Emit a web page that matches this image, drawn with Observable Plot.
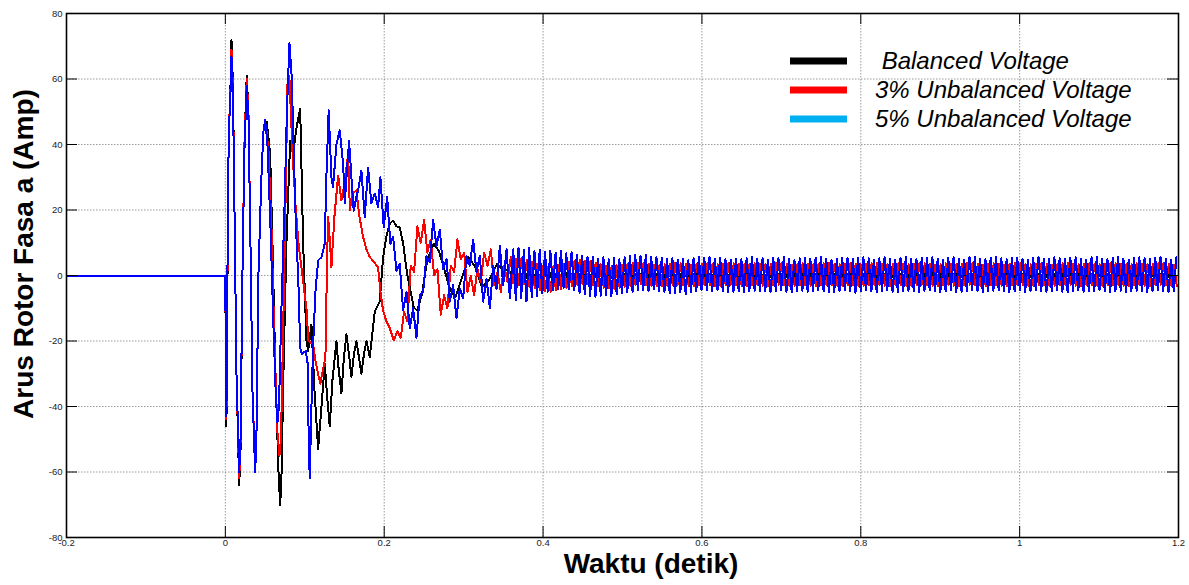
<!DOCTYPE html>
<html><head><meta charset="utf-8">
<script src="https://cdn.jsdelivr.net/npm/d3@7"></script>
<script src="https://cdn.jsdelivr.net/npm/@observablehq/plot@0.6"></script>
<style>
body{margin:0;background:#fff;}
#wrap{position:relative;width:1189px;height:585px;font-family:"Liberation Sans",Arial,sans-serif;}
#overlay{position:absolute;left:0;top:0;pointer-events:none;}
#wrap g[aria-label="line"] path{shape-rendering:crispEdges;}
</style>
</head><body><div id="wrap"></div>
<script>
// ---------- axis ticks ----------
const xTicks = [-0.2, 0, 0.2, 0.4, 0.6, 0.8, 1, 1.2];
const xTickLabels = ["-0.2", "0", "0.2", "0.4", "0.6", "0.8", "1", "1.2"];
const yTicks = [-80, -60, -40, -20, 0, 20, 40, 60, 80];

const seriesNames = ["Balanced Voltage", "3% Unbalanced Voltage", "5% Unbalanced Voltage"];
const lineColors = ["#000000", "#ff0000", "#0000ff"];
const legendColors = ["#000000", "#ff0000", "#00b0f0"];
const xTitle = "Waktu (detik)";
const yTitle = "Arus Rotor Fasa a (Amp)";

// ---------- transient points [time s, current A] ----------
const balancedPts = [[-0.2,0],[0,0],[0.0008,-46],[0.0014,-44],[0.0033,20],[0.0045,48],[0.0058,50],[0.0077,72],[0.0096,58],[0.0115,20],[0.0140,-30],[0.0174,-64],[0.0190,-55],[0.0215,0],[0.0240,40],[0.0269,61],[0.0291,50],[0.0316,10],[0.0341,-35],[0.0375,-60],[0.0391,-50],[0.0416,0],[0.0454,30],[0.0479,44],[0.0521,47],[0.0543,42],[0.0564,37],[0.0593,10],[0.0631,-30],[0.0669,-60],[0.0690,-70],[0.0706,-62],[0.0731,-30],[0.0769,10],[0.0816,41],[0.0857,38],[0.0895,45],[0.0942,51],[0.0979,10],[0.1021,-20],[0.1042,-23],[0.1084,-15],[0.1122,-35],[0.1168,-53],[0.1210,-40],[0.1251,-27],[0.1285,-38],[0.1314,-46],[0.1348,-32],[0.1398,-20],[0.1424,-28],[0.1461,-36],[0.1493,-25],[0.1524,-18],[0.1556,-24],[0.1587,-31],[0.1619,-24],[0.1650,-20],[0.1682,-25],[0.1713,-30],[0.1745,-24],[0.1776,-20],[0.1818,-25],[0.1881,-11],[0.1943,-8],[0.1986,5.6],[0.2028,12],[0.2069,15.8],[0.2112,16.8],[0.2154,15],[0.2195,14.7],[0.2238,9.8],[0.2288,0.5],[0.2371,-9.7],[0.2414,-10.7],[0.2477,-5.6],[0.2540,4.6],[0.2623,9.7],[0.2686,7.6],[0.2749,2.5],[0.2833,-4.6],[0.2896,-6.6],[0.2981,-0.5],[0.3064,5.6],[0.3148,2.5],[0.3232,-3.6],[0.3315,-1.5],[0.3421,3.5],[0.3504,1.5]];

const unbal3Pts = [[-0.2,0],[0,0],[0.0008,-44],[0.0014,-42],[0.0033,20],[0.0045,48],[0.0058,50],[0.0077,69],[0.0096,57],[0.0115,20],[0.0140,-30],[0.0174,-62],[0.0190,-53],[0.0215,0],[0.0240,40],[0.0269,60],[0.0291,50],[0.0316,10],[0.0341,-35],[0.0375,-59],[0.0391,-50],[0.0416,0],[0.0454,30],[0.0479,44],[0.0511,46],[0.0543,38],[0.0580,15],[0.0618,-20],[0.0656,-48],[0.0681,-55],[0.0700,-50],[0.0725,-20],[0.0756,20],[0.0785,62],[0.0807,60],[0.0845,38],[0.0882,22],[0.0920,10],[0.0970,0],[0.1021,-10],[0.1046,-20],[0.1105,-21],[0.1134,-26],[0.1176,-31],[0.1197,-33],[0.1218,-30],[0.1260,-25],[0.1281,5],[0.1294,18],[0.1317,10],[0.1335,2.5],[0.1373,18],[0.1420,30.5],[0.1461,23],[0.1499,28],[0.1546,37],[0.1568,20],[0.1600,25],[0.1650,26],[0.1688,18],[0.1735,11.7],[0.1776,8],[0.1818,5.6],[0.1877,4],[0.1923,2.5],[0.1952,-5],[0.1986,-10.7],[0.2028,-14],[0.2066,-15.8],[0.2120,-19.8],[0.2166,-17]];

const unbal5Pts = [[-0.2,0],[0,0],[0.0008,-43],[0.0014,-40],[0.0033,22],[0.0045,47],[0.0058,50],[0.0077,67],[0.0096,55],[0.0115,20],[0.0140,-30],[0.0174,-60],[0.0190,-52],[0.0215,0],[0.0240,38],[0.0269,58],[0.0291,48],[0.0316,10],[0.0341,-35],[0.0375,-60],[0.0391,-50],[0.0416,0],[0.0454,30],[0.0479,44],[0.0501,47.6],[0.0530,40],[0.0568,15],[0.0605,-15],[0.0637,-38],[0.0656,-45],[0.0675,-40],[0.0706,-10],[0.0744,20],[0.0775,50],[0.0807,71],[0.0836,60.5],[0.0857,41],[0.0886,17],[0.0920,-2.5],[0.0942,-22],[0.0962,-24],[0.1012,-23],[0.1037,-27],[0.1046,-45],[0.1062,-62],[0.1084,-40],[0.1105,-21],[0.1134,-5],[0.1168,4.6],[0.1210,5.6],[0.1251,9.7],[0.1272,30],[0.1301,50.4],[0.1335,30],[0.1356,27],[0.1398,40],[0.1440,44.3],[0.1483,34],[0.1503,22],[0.1533,33],[0.1558,41],[0.1587,30],[0.1616,19.8],[0.1650,24],[0.1671,26],[0.1713,32],[0.1755,17.8],[0.1797,33],[0.1839,22],[0.1881,25],[0.1923,21],[0.1952,30],[0.1994,14.7],[0.2037,24],[0.2078,9.7],[0.2112,11.7],[0.2154,1.5],[0.2195,3.5]];

// ---------- ripple extrema (evenly spaced sample times) ----------
const balancedRipple = {start: 0.3575, step: 0.00334, values: [
1.6,-0.8,1.4,-1.0,1.2,-1.1,1.0,-1.2,0.9,-1.3,0.8,-1.2,
1.0,-1.0,1.1,-0.9,1.2,-0.8,1.1,-1.0,0.9,-1.1,1.0,-1.2,
1.1,-0.9,1.0,-1.0,1.2,-0.8,0.9,-1.1,1.0,-1.0,1.1,-0.9,
1.2,-1.0,0.9,-1.1,1.0,-0.9,1.1,-1.0,1.2,-0.8,1.0,-1.1,
0.9,-1.0,1.1,-0.9,1.0,-1.2,1.2,-0.9,1.0,-1.0,0.9,-1.1,
1.1,-0.8,1.0,-1.0,1.2,-1.1,0.9,-0.9,1.0,-1.0,1.1,-1.2,
1.0,-0.9,1.2,-1.0,0.9,-1.1,1.0,-0.8,1.1,-1.0,1.0,-0.9,
1.2,-1.1,0.9,-1.0,1.0,-0.9,1.1,-1.0,1.2,-0.8,1.0,-1.1,
0.9,-1.0,1.1,-0.9,1.0,-1.2,1.2,-0.9,1.0,-1.0,0.9,-1.1,
1.1,-0.8,1.0,-1.0,1.2,-1.1,0.9,-0.9,1.0,-1.0,1.1,-1.2,
1.0,-0.9,1.2,-1.0,0.9,-1.1,1.0,-0.8,1.1,-1.0,1.0,-0.9,
1.2,-1.1,0.9,-1.0,1.0,-0.9,1.1,-1.0,1.2,-0.8,1.0,-1.1,
0.9,-1.0,1.1,-0.9,1.0,-1.2,1.2,-0.9,1.0,-1.0,0.9,-1.1,
1.1,-0.8,1.0,-1.0,1.2,-1.1,0.9,-0.9,1.0,-1.0,1.1,-1.2,
1.0,-0.9,1.2,-1.0,0.9,-1.1,1.0,-0.8,1.1,-1.0,1.0,-0.9,
1.2,-1.1,0.9,-1.0,1.0,-0.9,1.1,-1.0,1.2,-0.8,1.0,-1.1,
0.9,-1.0,1.1,-0.9,1.0,-1.2,1.2,-0.9,1.0,-1.0,0.9,-1.1,
1.1,-0.8,1.0,-1.0,1.2,-1.1,0.9,-0.9,1.0,-1.0,1.1,-1.2,
1.0,-0.9,1.2,-1.0,0.9,-1.1,1.0,-0.8,1.1,-1.0,1.0,-0.9,
1.2,-1.1,0.9,-1.0,1.0,-0.9,1.1,-1.0,1.2,-0.8,1.0,-1.1,
0.9,-1.0,1.1,-0.9,1.0,-1.2,1.2,-0.9,1.0,-1.0,0.9,-1.1]};

const unbal3RippleA = {start: 0.2208, step: 0.0042, values: [
-19,-11,-14,3,1,15,10,17,7,11,0,2,-12,-6,-10,3,1,11,5,7,-5,0,-6,2,-2,7,3,8,-3,1,-5,3,-2]};
const unbal3RippleB = {start: 0.3594, step: 0.00334, values: [
5.6,-2.4,5.2,-3.0,5.4,-2.6,4.8,-3.4,4.2,-3.9,3.6,-4.4,
3.0,-4.8,2.6,-4.9,2.8,-4.6,3.1,-4.2,3.6,-3.8,4.1,-3.2,
4.5,-2.8,4.8,-2.5,4.6,-2.7,4.3,-3.0,3.9,-3.3,3.4,-3.7,
3.0,-3.9,2.9,-4.0,3.1,-3.7,3.3,-3.4,3.6,-3.1,3.8,-2.8,
3.9,-2.7,3.7,-2.9,3.5,-3.1,3.3,-3.3,3.2,-3.4,3.4,-3.2,
3.6,-3.0,3.8,-2.8,3.7,-2.9,3.5,-3.1,3.3,-3.2,3.4,-3.0,
3.6,-2.9,3.7,-3.0,3.5,-3.2,3.4,-3.1,3.6,-2.9,3.8,-2.8,
3.7,-3.0,3.5,-3.1,3.4,-3.2,3.6,-3.0,3.7,-2.9,3.5,-3.1,
3.4,-3.2,3.6,-3.0,3.8,-2.8,3.7,-2.9,3.5,-3.1,3.3,-3.2,
3.5,-3.0,3.7,-2.9,3.6,-3.1,3.4,-3.2,3.5,-3.0,3.7,-2.8,
3.8,-2.9,3.6,-3.1,3.4,-3.2,3.5,-3.0,3.7,-2.9,3.6,-3.1,
3.4,-3.2,3.5,-3.0,3.7,-2.8,3.8,-2.9,3.6,-3.1,3.4,-3.2,
3.5,-3.0,3.7,-2.9,3.6,-3.1,3.4,-3.2,3.5,-3.0,3.8,-2.8,
3.7,-2.9,3.5,-3.1,3.3,-3.2,3.5,-3.0,3.7,-2.9,3.6,-3.1,
3.4,-3.2,3.6,-3.0,3.8,-2.8,3.7,-3.0,3.5,-3.1,3.4,-3.2,
3.6,-3.0,3.7,-2.9,3.5,-3.1,3.3,-3.2,3.6,-3.0,3.8,-2.8,
3.7,-2.9,3.5,-3.1,3.4,-3.2,3.6,-3.0,3.7,-2.9,3.5,-3.1,
3.3,-3.2,3.5,-3.0,3.7,-2.8,3.8,-2.9,3.6,-3.1,3.4,-3.2,
3.5,-3.0,3.7,-2.9,3.6,-3.1,3.4,-3.2,3.5,-3.0,3.7,-2.8,
3.8,-2.9,3.6,-3.1,3.4,-3.2,3.5,-3.0,3.7,-2.9,3.6,-3.1,
3.4,-3.2,3.5,-3.0,3.7,-2.8,3.8,-2.9,3.6,-3.1,3.4,-3.2]};

const unbal5RippleA = {start: 0.2238, step: 0.0042, values: [
-10.7,-5,-16,-10,-19,-6,-5,6,4,17,9,14,2,5,-8,-3,-13,-4,-7,6,3,11,1,6,-8,-1,-10,3,-4,9,-3,8,-7]};
const unbal5RippleB = {start: 0.3624, step: 0.00334, values: [
8.0,-7.6,8.3,-7.0,7.8,-7.9,8.4,-6.6,7.5,-6.2,7.9,-5.5,
7.2,-5.0,7.6,-4.4,7.0,-4.1,7.4,-3.8,6.8,-4.3,7.1,-4.6,
6.4,-5.2,6.0,-5.8,5.6,-6.3,5.8,-6.6,5.2,-6.2,5.5,-6.0,
5.0,-6.4,5.3,-5.8,4.9,-5.5,5.6,-5.1,5.9,-4.9,6.2,-4.6,
6.0,-4.4,6.3,-4.8,5.8,-4.3,5.6,-4.7,5.4,-5.0,5.0,-5.4,
5.2,-5.5,4.8,-5.2,5.0,-5.7,4.6,-5.1,5.3,-4.8,5.6,-4.5,
5.4,-4.6,5.7,-4.9,5.2,-4.4,5.5,-4.7,5.0,-5.1,4.8,-5.0,
5.2,-4.8,4.9,-5.2,5.3,-4.9,5.6,-4.6,5.1,-4.9,5.4,-4.7,
4.9,-5.1,5.5,-4.8,5.2,-4.5,5.6,-4.9,5.0,-5.2,4.7,-4.9,
5.3,-4.6,5.5,-5.0,5.1,-4.7,5.4,-4.4,5.7,-4.8,5.2,-5.1,
4.8,-5.0,5.1,-4.7,5.5,-4.5,5.3,-4.9,5.0,-5.2,5.4,-4.8,
5.6,-4.6,5.2,-4.9,4.9,-5.1,5.3,-4.7,5.6,-4.5,5.1,-5.0,
4.9,-5.2,5.4,-4.8,5.7,-4.6,5.2,-4.9,5.0,-5.1,5.5,-4.7,
5.3,-4.5,5.6,-4.9,5.1,-5.2,4.8,-4.8,5.4,-4.6,5.6,-5.0,
5.2,-4.9,4.9,-4.7,5.5,-4.4,5.7,-4.8,5.1,-5.1,5.0,-4.9,
5.4,-4.7,5.6,-4.5,5.2,-4.9,4.9,-5.2,5.3,-4.8,5.5,-4.6,
5.1,-5.0,4.8,-4.8,5.4,-4.6,5.7,-4.9,5.2,-5.1,5.0,-4.7,
5.5,-4.5,5.3,-4.9,5.0,-5.2,5.4,-4.8,5.6,-4.6,5.1,-5.0,
4.9,-4.9,5.5,-4.7,5.7,-4.5,5.2,-4.9,5.0,-5.1,5.4,-4.8,
5.6,-4.6,5.1,-5.0,4.8,-4.8,5.3,-4.6,5.6,-4.9,5.2,-5.1,
5.0,-4.7,5.4,-4.5,5.7,-4.9,5.1,-5.1,4.9,-4.8,5.5]};

// ---------- build table ----------
function seriesRows(name, pts, segments) {
  const rows = pts.map(([t, v]) => ({series: name, t, v}));
  for (const seg of segments) seg.values.forEach((v, i) => rows.push({series: name, t: seg.start + i * seg.step, v}));
  return rows;
}
const rows = [
  ...seriesRows(seriesNames[0], balancedPts, [balancedRipple]),
  ...seriesRows(seriesNames[1], unbal3Pts, [unbal3RippleA, unbal3RippleB]),
  ...seriesRows(seriesNames[2], unbal5Pts, [unbal5RippleA, unbal5RippleB])
];

const W = 1189, H = 585, mL = 66, mR = 11, mT = 13, mB = 48;
const plotW = W - mL - mR, plotH = H - mT - mB;
const tickLen = 11;

const chart = Plot.plot({
  width: W, height: H,
  marginLeft: mL, marginRight: mR, marginTop: mT, marginBottom: mB,
  style: {fontFamily: "'Liberation Sans', Arial, sans-serif", fontSize: "9.5px", color: "#222", background: "#fff"},
  x: {domain: [-0.2, 1.2], ticks: xTicks, tickFormat: d => xTickLabels[xTicks.indexOf(d)], tickSize: 0, tickPadding: 2, label: null},
  y: {domain: [-80, 80], ticks: yTicks, tickFormat: d => String(d), tickSize: 0, tickPadding: 4, label: null},
  color: {domain: seriesNames, range: lineColors},
  marks: [
    Plot.ruleX(xTicks, {x: d => d, stroke: "#808080", strokeWidth: 0.8, strokeDasharray: "1.5,1.5"}),
    Plot.ruleY(yTicks, {y: d => d, stroke: "#808080", strokeWidth: 0.8, strokeDasharray: "1.5,1.5"}),
    Plot.line(rows, {x: "t", y: "v", z: "series", stroke: "series", strokeWidth: 2, strokeLinejoin: "round"}),
    Plot.tickX(xTicks, {x: d => d, stroke: "#000", insetTop: plotH - tickLen}),
    Plot.tickX(xTicks, {x: d => d, stroke: "#000", insetBottom: plotH - tickLen}),
    Plot.tickY(yTicks, {y: d => d, stroke: "#000", insetRight: plotW - tickLen}),
    Plot.tickY(yTicks, {y: d => d, stroke: "#000", insetLeft: plotW - tickLen}),
    Plot.frame({stroke: "#000", strokeWidth: 1.6})
  ]
});
const wrap = document.getElementById("wrap");
wrap.appendChild(chart);

// ---------- overlay: titles and legend ----------
const ov = d3.select(wrap).append("svg").attr("id", "overlay").attr("width", W).attr("height", H)
  .style("font-family", "'Liberation Sans', Arial, sans-serif");
ov.append("text").attr("x", 651).attr("y", 573).attr("text-anchor", "middle")
  .attr("font-size", 28).attr("font-weight", "bold").text(xTitle);
ov.append("text").attr("transform", "translate(33,254) rotate(-90)").attr("text-anchor", "middle")
  .attr("font-size", 28).attr("font-weight", "bold").text(yTitle);
const legendY = [61, 90, 119];
const legendLabels = [" " + seriesNames[0], seriesNames[1], seriesNames[2]];
legendLabels.forEach((lab, i) => {
  ov.append("line").attr("x1", 790).attr("x2", 847).attr("y1", legendY[i]).attr("y2", legendY[i])
    .attr("stroke", legendColors[i]).attr("stroke-width", 7);
  ov.append("text").attr("x", 875).attr("y", legendY[i] + 8).attr("font-size", 24)
    .attr("font-style", "italic").style("white-space", "pre").attr("xml:space", "preserve").text(lab);
});
</script>
</body></html>
